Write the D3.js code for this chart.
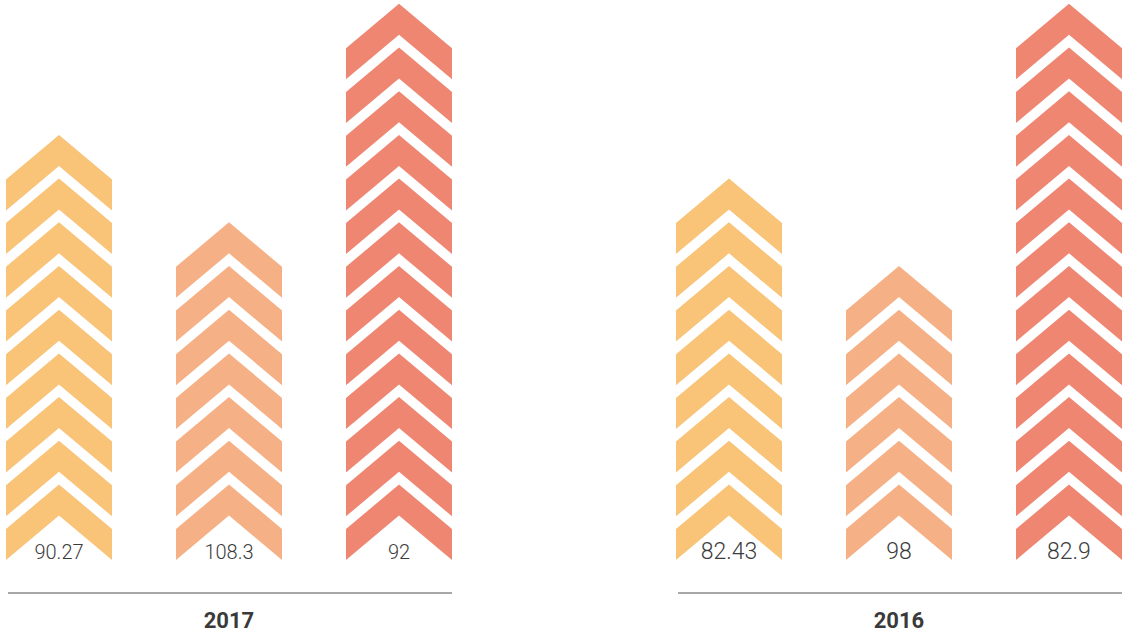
<!DOCTYPE html>
<html>
<head>
<meta charset="utf-8">
<script src="https://cdn.jsdelivr.net/npm/d3@7"></script>
<style>
  body { margin: 0; background: #fff; }
  svg { display: block; }
</style>
</head>
<body>
<script>
const width = 1122, height = 634;

// data
const years = ["2017", "2016"];
const series = ["a", "b", "c"];
const chevrons2017 = [9, 7, 12];
const chevrons2016 = [8, 6, 12];
const values2017 = ["90.27", "108.3", "92"];
const values2016 = ["82.43", "98", "82.9"];
const colors = ["#f9c378", "#f5b085", "#ef8672"];

const groups = [
    { year: years[0], counts: chevrons2017, labels: values2017, fontSize: 20 },
    { year: years[1], counts: chevrons2016, labels: values2016, fontSize: 23 }
];

const svg = d3.select("body").append("svg").attr("width", width).attr("height", height);

const xGroup = d3.scaleBand().domain(years).range([6, 1122]).paddingInner(0.3343).paddingOuter(0);
const xCol = d3.scaleBand().domain(series).range([0, xGroup.bandwidth()]).paddingInner(0.3765).paddingOuter(0);
// y(i) = bottom of the i-th chevron's side edge
const y = d3.scaleLinear().domain([0, 12]).range([560, 560 - 12 * 43.7]);
const colorScale = d3.scaleOrdinal().domain(series).range(colors);

const rise = 44.5;   // height of the V
const thick = 31;    // vertical thickness of each chevron

function chevron(L, R, b) {
    const cx = (L + R) / 2;
    return `M${L},${b} L${cx},${b - rise} L${R},${b} L${R},${b - thick} L${cx},${b - thick - rise} L${L},${b - thick} Z`;
}

groups.forEach(g => {
    const gx = xGroup(g.year);
    const root = svg.append("g").attr("transform", `translate(${gx},0)`);

    series.forEach((s, si) => {
        const L = xCol(s), R = L + xCol.bandwidth();
        const col = root.append("g");
        col.selectAll("path")
            .data(d3.range(g.counts[si]))
            .enter().append("path")
            .attr("d", i => chevron(L, R, y(i)))
            .attr("fill", colorScale(s));

        col.append("text")
            .attr("x", (L + R) / 2)
            .attr("y", 558.5)
            .attr("text-anchor", "middle")
            .attr("font-family", "Roboto, sans-serif")
            .attr("font-weight", 300)
            .attr("font-size", g.fontSize)
            .attr("fill", "#3c3c3c")
            .text(g.labels[si]);
    });

    root.append("line")
        .attr("x1", 2).attr("x2", xGroup.bandwidth())
        .attr("y1", 593).attr("y2", 593)
        .attr("stroke", "#a8a8a8").attr("stroke-width", 2);

    root.append("text")
        .attr("x", xGroup.bandwidth() / 2)
        .attr("y", 628)
        .attr("text-anchor", "middle")
        .attr("font-family", "Roboto, sans-serif")
        .attr("font-weight", 700)
        .attr("font-size", 22)
        .attr("fill", "#3a3a3a")
        .text(g.year);
});
</script>
</body>
</html>
